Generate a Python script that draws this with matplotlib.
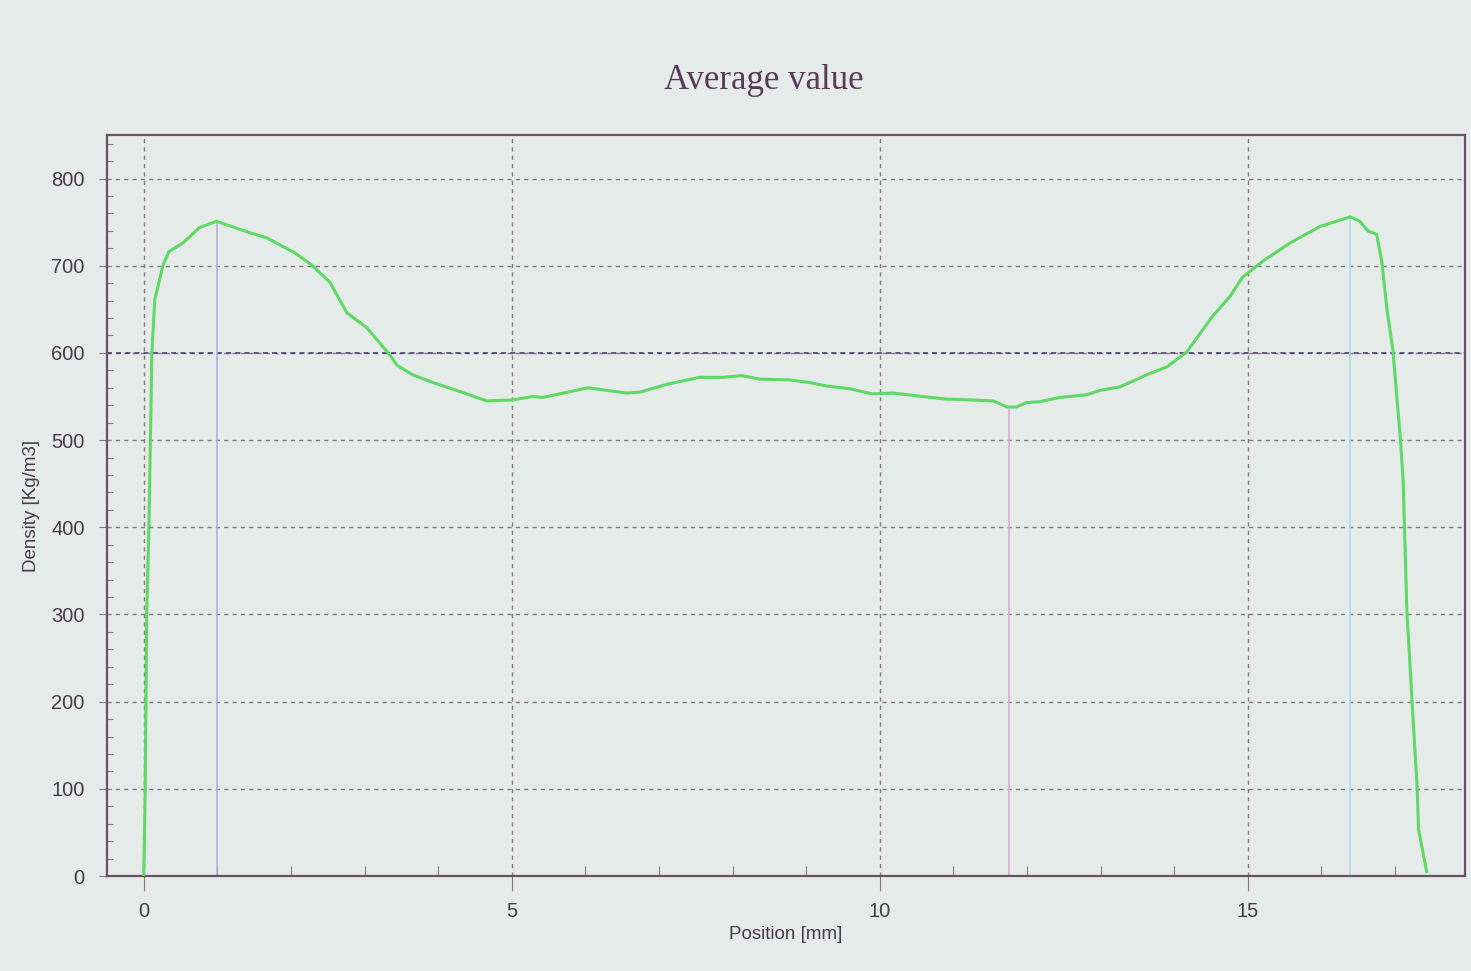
import matplotlib.pyplot as plt
import numpy as np
from matplotlib.ticker import MultipleLocator

# density profile
position = [0.0, 0.02, 0.04, 0.07, 0.09, 0.10, 0.11, 0.15, 0.26, 0.34, 0.53, 0.76, 0.99,
            1.40, 1.67, 2.05, 2.28, 2.53, 2.76, 3.03, 3.34, 3.44, 3.65, 3.93, 4.25, 4.66,
            5.00, 5.29, 5.42, 5.65, 6.03, 6.56, 6.74, 7.11, 7.55, 7.87, 8.12, 8.37, 8.78,
            9.05, 9.28, 9.59, 9.90, 10.18, 10.58, 10.91, 11.26, 11.54, 11.73, 11.86, 11.99,
            12.17, 12.45, 12.81, 12.99, 13.26, 13.63, 13.90, 14.17, 14.52, 14.76, 14.93,
            15.20, 15.57, 15.98, 16.39, 16.52, 16.63, 16.75, 16.82, 16.89, 16.97, 17.02,
            17.07, 17.11, 17.16, 17.23, 17.30, 17.32, 17.43]
density = [0, 100, 300, 400, 500, 546, 600, 661, 700, 716, 726, 744, 751,
           739, 732, 715, 701, 681, 646, 629, 598, 586, 575, 566, 557, 545,
           546, 550, 549, 553, 560, 554, 555, 564, 572, 572, 574, 570, 569,
           566, 562, 559, 553, 554, 550, 547, 546, 545, 538, 538, 543,
           544, 549, 552, 557, 561, 575, 584, 601, 642, 665, 687,
           705, 726, 745, 756, 751, 740, 736, 705, 650, 604, 554,
           504, 454, 305, 202, 102, 53, 5]

# marker lines (peak left, minimum, peak right) and mean level
marker_x = [0.99, 11.75, 16.39]
marker_y = [751, 538, 756]
marker_colors = ['#b4b0dc', '#e2a8d4', '#a8dce4']
mean_level = 600

bg = '#e5ebe9'
ink = '#4a3a48'
plt.rcParams['font.family'] = ['Liberation Sans', 'DejaVu Sans']

fig = plt.figure(figsize=(14.71, 9.71), dpi=100, facecolor=bg)
ax = fig.add_axes([0.0727, 0.0978, 0.9232, 0.7632], facecolor=bg)

ax.set_xlim(-0.5, 17.95)
ax.set_ylim(0, 850)

ax.xaxis.set_major_locator(MultipleLocator(5))
ax.xaxis.set_minor_locator(MultipleLocator(1))
ax.yaxis.set_major_locator(MultipleLocator(100))
ax.yaxis.set_minor_locator(MultipleLocator(20))

ax.grid(True, which='major', color='#8a7482', linestyle=(0, (3, 3)), linewidth=1.0)
ax.axhline(mean_level, color='#4a3c72', linestyle=(0, (3, 2.5)), linewidth=1.2, zorder=2)

for mx, my, mc in zip(marker_x, marker_y, marker_colors):
    ax.plot([mx, mx], [0, my], color=mc, linewidth=1.2, zorder=2)

ax.plot(position, density, color='#5fd865', linewidth=2.2, zorder=3)

for s in ax.spines.values():
    s.set_color('#6a5262')
    s.set_linewidth(1.6)

ax.tick_params(axis='x', which='major', direction='out', length=11, width=0.8,
               color='#8a7482', pad=8, labelsize=14.5, labelcolor=ink)
ax.tick_params(axis='y', which='major', direction='out', length=6, width=0.8,
               color='#8a7482', pad=10, labelsize=14.5, labelcolor=ink)
ax.tick_params(axis='x', which='minor', direction='in', length=7, width=0.8, color='#8a7482')
ax.tick_params(axis='y', which='minor', direction='in', length=4, width=0.8, color='#8a7482')

ax.set_xlabel('Position [mm]', fontsize=13.5, color=ink, labelpad=3)
ax.set_ylabel('Density [Kg/m3]', fontsize=13.5, color=ink, labelpad=8)

fig.text(0.519, 0.917, 'Average value', ha='center', va='center', fontsize=25,
         family='Liberation Serif', color='#5a3a58')

plt.savefig('out.png', dpi=100, facecolor=bg)
